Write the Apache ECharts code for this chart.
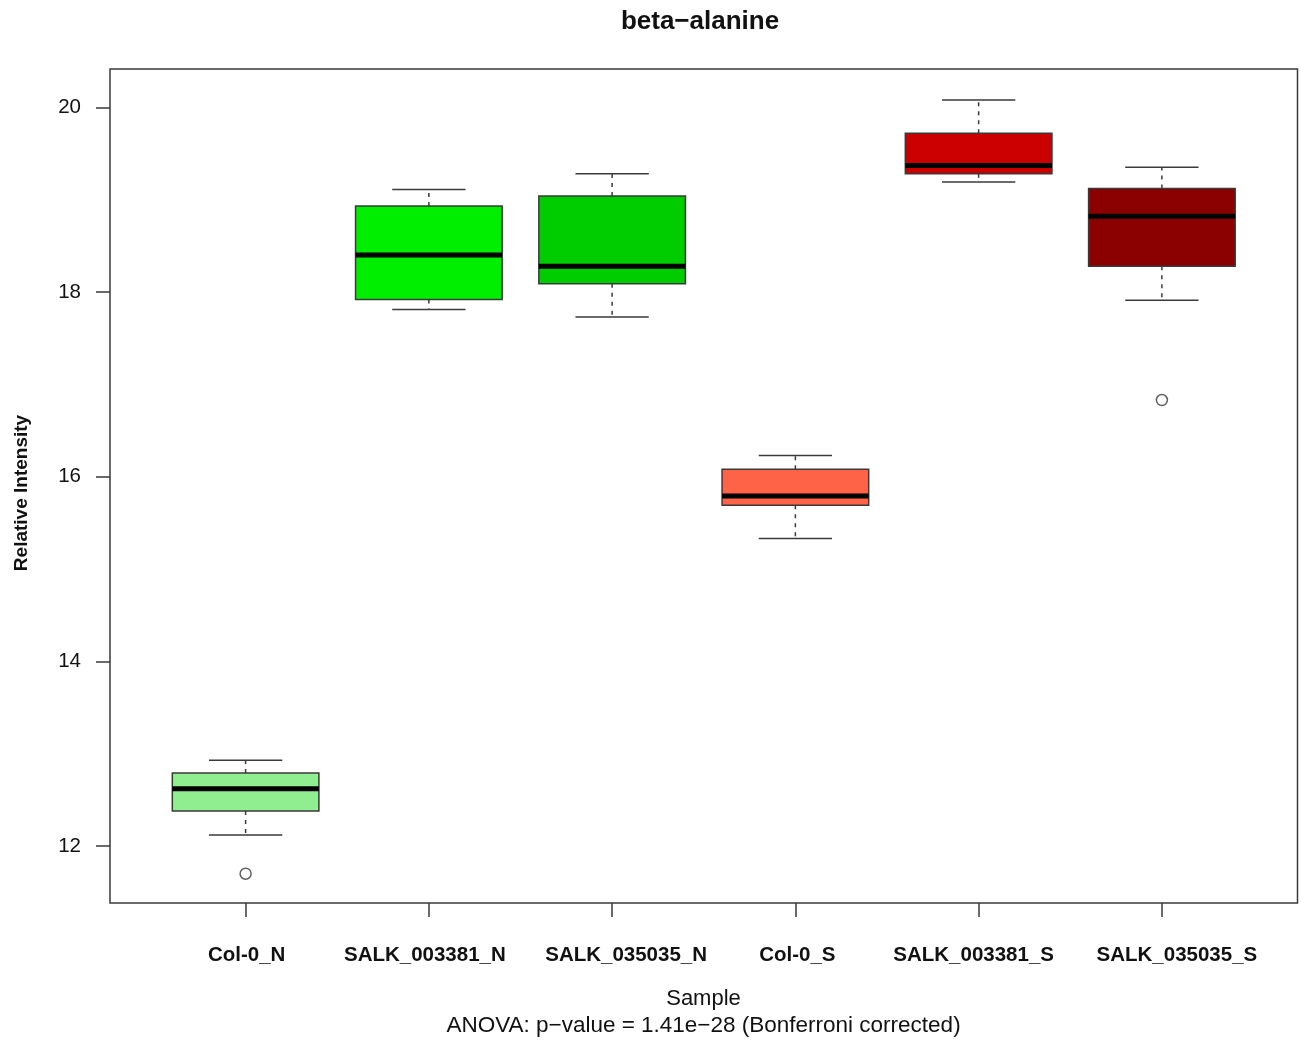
<!DOCTYPE html>
<html>
<head>
<meta charset="utf-8">
<script src="https://cdn.jsdelivr.net/npm/echarts@6/dist/echarts.min.js"></script>
<style>
html,body{margin:0;padding:0;background:#fff;}
#chart{width:1301px;height:1040px;}
</style>
</head>
<body>
<div id="chart"></div>
<script>
const categories = ['Col-0_N', 'SALK_003381_N', 'SALK_035035_N', 'Col-0_S', 'SALK_003381_S', 'SALK_035035_S'];
const mins    = [12.12, 17.81, 17.73, 15.33, 19.19, 17.91];
const q1s     = [12.38, 17.92, 18.09, 15.69, 19.28, 18.28];
const medians = [12.62, 18.40, 18.28, 15.79, 19.37, 18.82];
const q3s     = [12.79, 18.93, 19.04, 16.08, 19.72, 19.12];
const maxs    = [12.93, 19.11, 19.28, 16.23, 20.08, 19.35];
const outlierGroup = [1, 6];
const outlierValue = [11.70, 16.83];
const boxColors = ['#90EE90', '#00EE00', '#00CD00', '#FF6347', '#CD0000', '#8B0000'];
const yTicks = [12, 14, 16, 18, 20];
const xPositions = [1, 2, 3, 4, 5, 6];
// horizontal shift (px) of each category label relative to its tick, as in the reference
const labelShift = [1, -4, 14, 2, -5, 15];

const lineColor = '#3a3a3a';
const lw = 1.5;
const chart = echarts.init(document.getElementById('chart'), null, {renderer: 'canvas'});

const boxData = categories.map((c, i) => [xPositions[i], mins[i], q1s[i], medians[i], q3s[i], maxs[i]]);
const outlierData = outlierGroup.map((g, i) => [g, outlierValue[i]]);

function renderBox(params, api) {
  const x = api.value(0);
  const vmin = api.value(1), vq1 = api.value(2), vmed = api.value(3), vq3 = api.value(4), vmax = api.value(5);
  const pt = v => api.coord([x, v]);
  const halfW = api.size([0.4, 0])[0];
  const capW = api.size([0.2, 0])[0];
  const pMin = pt(vmin), pQ1 = pt(vq1), pMed = pt(vmed), pQ3 = pt(vq3), pMax = pt(vmax);
  const cx = pMed[0];
  const dashStyle = {stroke: lineColor, lineWidth: lw, lineDash: [4, 5]};
  const solid = {stroke: lineColor, lineWidth: lw};
  return {
    type: 'group',
    children: [
      {type: 'line', shape: {x1: cx, y1: pQ3[1], x2: cx, y2: pMax[1]}, style: dashStyle},
      {type: 'line', shape: {x1: cx, y1: pQ1[1], x2: cx, y2: pMin[1]}, style: dashStyle},
      {type: 'line', shape: {x1: cx - capW, y1: pMax[1], x2: cx + capW, y2: pMax[1]}, style: solid},
      {type: 'line', shape: {x1: cx - capW, y1: pMin[1], x2: cx + capW, y2: pMin[1]}, style: solid},
      {type: 'rect', shape: {x: cx - halfW, y: pQ3[1], width: 2 * halfW, height: pQ1[1] - pQ3[1]},
        style: {fill: boxColors[params.dataIndex], stroke: lineColor, lineWidth: lw}},
      {type: 'line', shape: {x1: cx - halfW, y1: pMed[1], x2: cx + halfW, y2: pMed[1]},
        style: {stroke: '#000', lineWidth: 5}}
    ]
  };
}

const labelFont = {fontFamily: 'Liberation Sans, Arial, sans-serif', fontSize: 20.5, fontWeight: 'bold', color: '#111'};
const rich = {};
labelShift.forEach((d, i) => {
  rich['c' + i] = Object.assign({}, labelFont, {padding: d >= 0 ? [0, 0, 0, 2 * d] : [0, -2 * d, 0, 0]});
});

const option = {
  backgroundColor: '#fff',
  animation: false,
  title: {
    text: 'beta\u2212alanine',
    left: 695, top: 4, textAlign: 'center',
    textStyle: {fontFamily: 'Liberation Sans, Arial, sans-serif', fontSize: 26, fontWeight: 'bold', color: '#111'}
  },
  grid: {
    left: 110, top: 69, right: 3.5, bottom: 137,
    show: true, borderColor: lineColor, borderWidth: lw, backgroundColor: 'transparent'
  },
  xAxis: {
    type: 'value', min: 0.26, max: 6.74,
    axisLine: {show: false},
    splitLine: {show: false},
    axisTick: {show: true, length: 14, customValues: xPositions, lineStyle: {color: lineColor, width: lw}},
    axisLabel: {
      show: true, customValues: xPositions, margin: 42,
      formatter: v => {
        const i = Math.round(v) - 1;
        return categories[i] ? '{c' + i + '|' + categories[i] + '}' : '';
      },
      rich: rich,
      fontFamily: 'Liberation Sans, Arial, sans-serif', fontSize: 20.5, fontWeight: 'bold', color: '#111'
    }
  },
  yAxis: {
    type: 'value', min: 11.383, max: 20.415,
    axisLine: {show: false},
    splitLine: {show: false},
    axisTick: {show: true, length: 14, customValues: yTicks, lineStyle: {color: lineColor, width: lw}},
    axisLabel: {
      show: true, customValues: yTicks, margin: 29,
      fontFamily: 'Liberation Sans, Arial, sans-serif', fontSize: 20.5, color: '#111'
    }
  },
  graphic: [
    {type: 'text', x: 22, y: 493, rotation: Math.PI / 2,
      style: {text: 'Relative Intensity', textAlign: 'center', textVerticalAlign: 'middle',
        font: 'bold 19px "Liberation Sans", Arial, sans-serif', fill: '#111'}},
    {type: 'text', x: 703.5, y: 999,
      style: {text: 'Sample', textAlign: 'center', textVerticalAlign: 'middle',
        font: '22px "Liberation Sans", Arial, sans-serif', fill: '#111'}},
    {type: 'text', x: 703.5, y: 1026,
      style: {text: 'ANOVA: p\u2212value = 1.41e\u221228 (Bonferroni corrected)', textAlign: 'center', textVerticalAlign: 'middle',
        font: '22.5px "Liberation Sans", Arial, sans-serif', fill: '#111'}}
  ],
  series: [
    {
      type: 'custom',
      renderItem: renderBox,
      data: boxData,
      encode: {x: 0, y: [1, 2, 3, 4, 5]},
      clip: false,
      z: 2
    },
    {
      type: 'scatter',
      data: outlierData,
      symbol: 'circle',
      symbolSize: 11,
      itemStyle: {color: '#fff', borderColor: lineColor, borderWidth: lw},
      z: 3
    }
  ]
};
chart.setOption(option);
</script>
</body>
</html>
